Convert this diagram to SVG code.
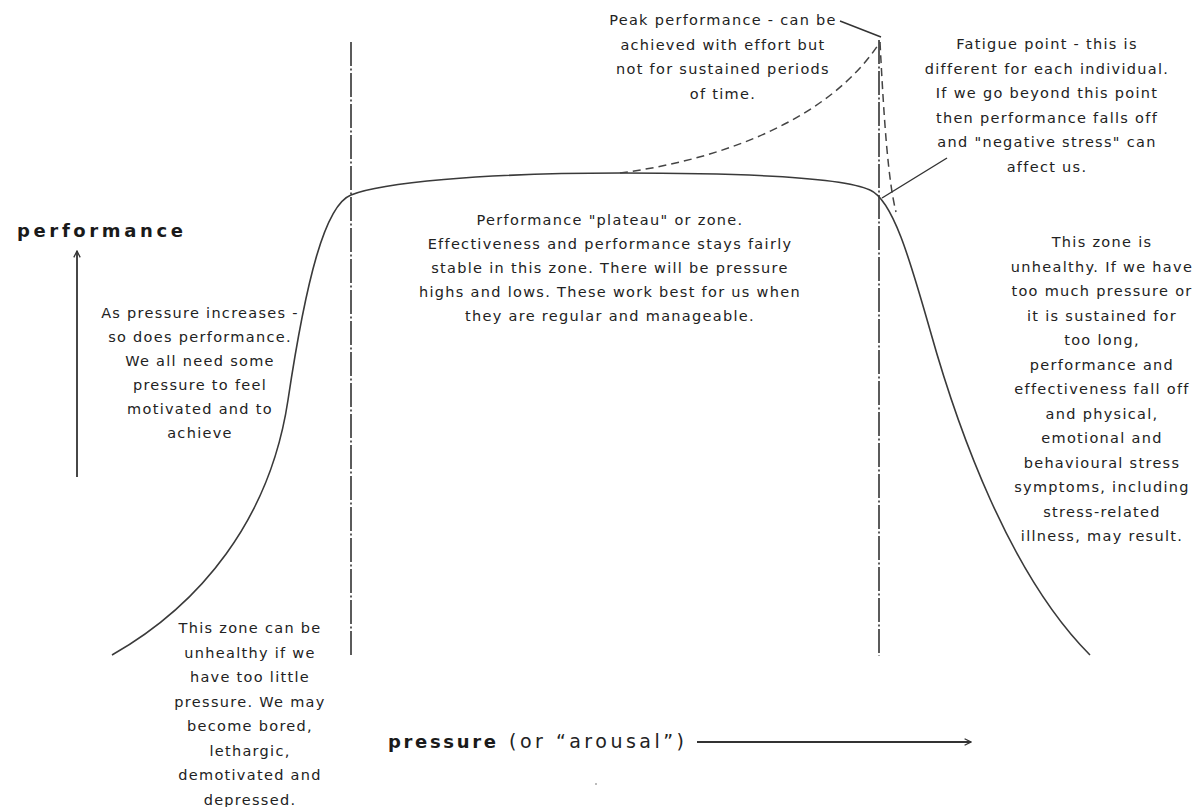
<svg xmlns="http://www.w3.org/2000/svg" width="1202" height="807" viewBox="0 0 1202 807">
<defs>
<style>
.t{font-family:"DejaVu Sans",Verdana,sans-serif;font-size:14.5px;letter-spacing:1.3px;fill:#222;text-anchor:middle}
.b{font-family:"DejaVu Sans",Verdana,sans-serif;font-weight:bold;fill:#1a1a1a}
.r{font-family:"DejaVu Sans",Verdana,sans-serif;fill:#222}
.curve{fill:none;stroke:#3a3a3a;stroke-width:1.6}
.zone{fill:none;stroke:#333;stroke-width:1.6;stroke-dasharray:24 2.5 2 2.5}
.dash{fill:none;stroke:#444;stroke-width:1.5;stroke-dasharray:8 5}
.lead{fill:none;stroke:#333;stroke-width:1.4}
.axis{fill:none;stroke:#333;stroke-width:1.8}
</style>
<marker id="ah" viewBox="0 0 10 10" refX="9" refY="5" markerWidth="8" markerHeight="8" markerUnits="userSpaceOnUse" orient="auto">
<path d="M1,1 L9,5 L1,9" fill="none" stroke="#333" stroke-width="1.6"/>
</marker>
</defs>
<rect width="1202" height="807" fill="#fff"/>
<g id="zones">
<line class="zone" x1="351" y1="42" x2="351" y2="656"/>
<line class="zone" x1="879" y1="40" x2="879" y2="656"/>
</g>
<g id="curve">
<path class="curve" d="M112,655 C200,605 270,520 288,400 C306,280 325,205 351,195 C380,183 480,173 620,173 C760,173 845,178 870,190 C893,200 910,260 930,330 C958,430 1010,575 1090,655"/>
<path class="dash" d="M620,173 C720,160 830,120 880,42"/>
<path class="dash" d="M880,42 C884,120 888,180 896,212"/>
</g>
<g id="connectors">
<line class="lead" x1="840" y1="21" x2="881" y2="37"/>
<line class="lead" x1="947" y1="158" x2="882" y2="198"/>
<line class="axis" x1="77" y1="477" x2="77" y2="251" marker-end="url(#ah)"/>
<line class="axis" x1="697" y1="742" x2="971" y2="742" marker-end="url(#ah)"/>
</g>
<g id="peak-label">
<text class="t" x="723" y="25">Peak performance - can be</text>
<text class="t" x="723" y="49.5">achieved with effort but</text>
<text class="t" x="723" y="74">not for sustained periods</text>
<text class="t" x="723" y="98.5">of time.</text>
</g>
<g id="fatigue-label">
<text class="t" x="1047" y="49">Fatigue point - this is</text>
<text class="t" x="1047" y="73.5">different for each individual.</text>
<text class="t" x="1047" y="98">If we go beyond this point</text>
<text class="t" x="1047" y="122.5">then performance falls off</text>
<text class="t" x="1047" y="147">and "negative stress" can</text>
<text class="t" x="1047" y="171.5">affect us.</text>
</g>
<g id="plateau-label">
<text class="t" x="610" y="225">Performance "plateau" or zone.</text>
<text class="t" x="610" y="249">Effectiveness and performance stays fairly</text>
<text class="t" x="610" y="273">stable in this zone. There will be pressure</text>
<text class="t" x="610" y="297">highs and lows. These work best for us when</text>
<text class="t" x="610" y="321">they are regular and manageable.</text>
</g>
<g id="rising-label">
<text class="t" x="200" y="318">As pressure increases -</text>
<text class="t" x="200" y="342">so does performance.</text>
<text class="t" x="200" y="366">We all need some</text>
<text class="t" x="200" y="390">pressure to feel</text>
<text class="t" x="200" y="414">motivated and to</text>
<text class="t" x="200" y="438">achieve</text>
</g>
<g id="low-zone-label">
<text class="t" x="250" y="633">This zone can be</text>
<text class="t" x="250" y="657.5">unhealthy if we</text>
<text class="t" x="250" y="682">have too little</text>
<text class="t" x="250" y="706.5">pressure. We may</text>
<text class="t" x="250" y="731">become bored,</text>
<text class="t" x="250" y="755.5">lethargic,</text>
<text class="t" x="250" y="780">demotivated and</text>
<text class="t" x="250" y="804.5">depressed.</text>
</g>
<g id="high-zone-label">
<text class="t" x="1102" y="247">This zone is</text>
<text class="t" x="1102" y="271.5">unhealthy. If we have</text>
<text class="t" x="1102" y="296">too much pressure or</text>
<text class="t" x="1102" y="320.5">it is sustained for</text>
<text class="t" x="1102" y="345">too long,</text>
<text class="t" x="1102" y="369.5">performance and</text>
<text class="t" x="1102" y="394">effectiveness fall off</text>
<text class="t" x="1102" y="418.5">and physical,</text>
<text class="t" x="1102" y="443">emotional and</text>
<text class="t" x="1102" y="467.5">behavioural stress</text>
<text class="t" x="1102" y="492">symptoms, including</text>
<text class="t" x="1102" y="516.5">stress-related</text>
<text class="t" x="1102" y="541">illness, may result.</text>
</g>
<g id="y-axis-label">
<text class="b" x="17" y="237" font-size="18" textLength="166" lengthAdjust="spacing">performance</text>
</g>
<g id="x-axis-label">
<text class="b" x="388" y="748" font-size="18" textLength="108" lengthAdjust="spacing">pressure</text>
<text class="r" x="509" y="748" font-size="19" textLength="175" lengthAdjust="spacing">(or “arousal”)</text>
</g>
<rect x="595" y="783" width="2" height="2" fill="#bbb"/>
</svg>
